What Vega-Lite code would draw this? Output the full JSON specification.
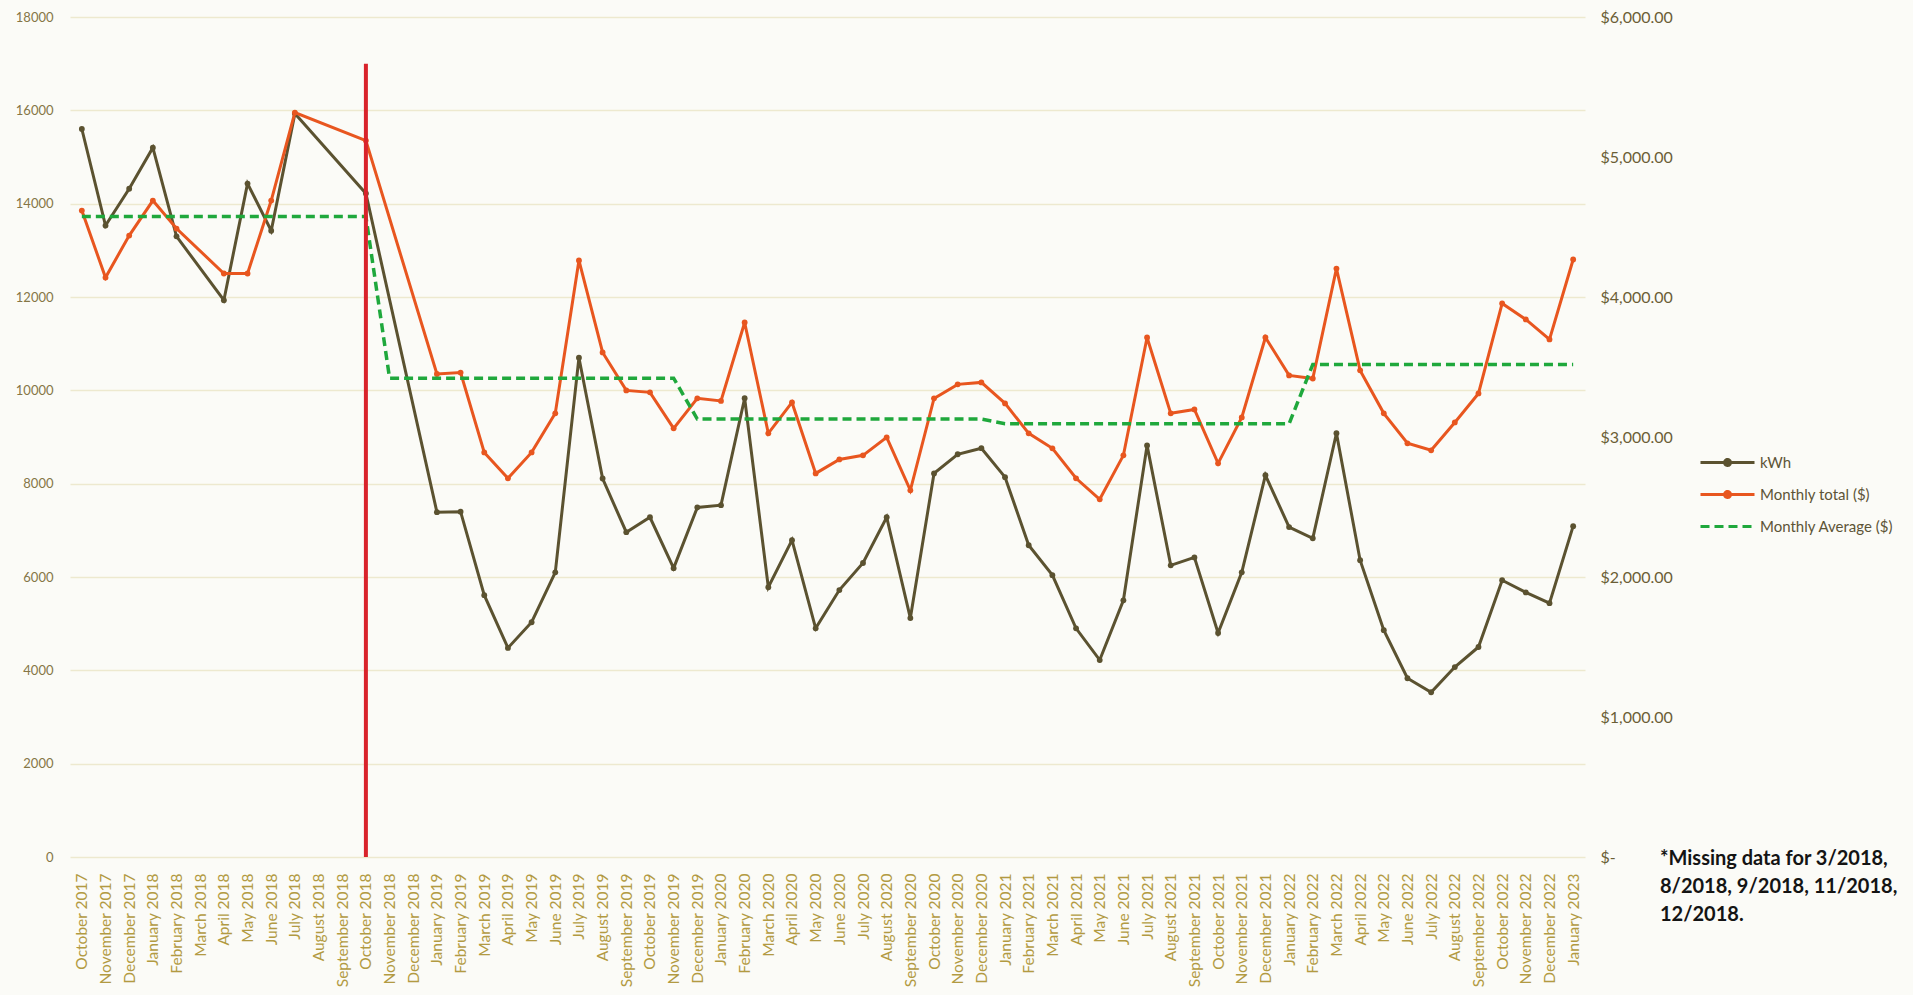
{
  "$schema": "https://vega.github.io/schema/vega-lite/v6.json",
  "width": 1515,
  "height": 840,
  "autosize": {"type": "none"},
  "padding": {"left": 70, "top": 17, "right": 328, "bottom": 138},
  "background": "#fbfbf7",
  "title": {
    "text": ["*Missing data for 3/2018,", "8/2018, 9/2018, 11/2018,", "12/2018."],
    "orient": "top",
    "anchor": "end",
    "align": "left",
    "baseline": "top",
    "frame": "group",
    "offset": 0,
    "dx": 75,
    "dy": 916,
    "font": "Lato",
    "fontSize": 20,
    "fontWeight": "bold",
    "color": "#141414",
    "lineHeight": 28
  },
  "data": {
    "values": [
      {"month": "October 2017", "kwh": 15600, "total": 4617, "avg": 4575},
      {"month": "November 2017", "kwh": 13530, "total": 4139, "avg": 4575},
      {"month": "December 2017", "kwh": 14320, "total": 4439, "avg": 4575},
      {"month": "January 2018", "kwh": 15200, "total": 4689, "avg": 4575},
      {"month": "February 2018", "kwh": 13300, "total": 4489, "avg": 4575},
      {"month": "March 2018", "kwh": null, "total": null, "avg": 4575},
      {"month": "April 2018", "kwh": 11930, "total": 4168, "avg": 4575},
      {"month": "May 2018", "kwh": 14430, "total": 4168, "avg": 4575},
      {"month": "June 2018", "kwh": 13420, "total": 4689, "avg": 4575},
      {"month": "July 2018", "kwh": 15930, "total": 5317, "avg": 4575},
      {"month": "August 2018", "kwh": null, "total": null, "avg": 4575},
      {"month": "September 2018", "kwh": null, "total": null, "avg": 4575},
      {"month": "October 2018", "kwh": 14220, "total": 5117, "avg": 4575},
      {"month": "November 2018", "kwh": null, "total": null, "avg": 3420},
      {"month": "December 2018", "kwh": null, "total": null, "avg": 3420},
      {"month": "January 2019", "kwh": 7390, "total": 3450, "avg": 3420},
      {"month": "February 2019", "kwh": 7400, "total": 3460, "avg": 3420},
      {"month": "March 2019", "kwh": 5610, "total": 2890, "avg": 3420},
      {"month": "April 2019", "kwh": 4480, "total": 2705, "avg": 3420},
      {"month": "May 2019", "kwh": 5030, "total": 2890, "avg": 3420},
      {"month": "June 2019", "kwh": 6100, "total": 3169, "avg": 3420},
      {"month": "July 2019", "kwh": 10700, "total": 4261, "avg": 3420},
      {"month": "August 2019", "kwh": 8110, "total": 3604, "avg": 3420},
      {"month": "September 2019", "kwh": 6960, "total": 3333, "avg": 3420},
      {"month": "October 2019", "kwh": 7280, "total": 3319, "avg": 3420},
      {"month": "November 2019", "kwh": 6190, "total": 3062, "avg": 3420},
      {"month": "December 2019", "kwh": 7490, "total": 3276, "avg": 3128},
      {"month": "January 2020", "kwh": 7540, "total": 3258, "avg": 3128},
      {"month": "February 2020", "kwh": 9830, "total": 3818, "avg": 3128},
      {"month": "March 2020", "kwh": 5780, "total": 3026, "avg": 3128},
      {"month": "April 2020", "kwh": 6790, "total": 3247, "avg": 3128},
      {"month": "May 2020", "kwh": 4900, "total": 2740, "avg": 3128},
      {"month": "June 2020", "kwh": 5720, "total": 2840, "avg": 3128},
      {"month": "July 2020", "kwh": 6300, "total": 2869, "avg": 3128},
      {"month": "August 2020", "kwh": 7280, "total": 2997, "avg": 3128},
      {"month": "September 2020", "kwh": 5120, "total": 2619, "avg": 3128},
      {"month": "October 2020", "kwh": 8220, "total": 3276, "avg": 3128},
      {"month": "November 2020", "kwh": 8630, "total": 3376, "avg": 3128},
      {"month": "December 2020", "kwh": 8760, "total": 3390, "avg": 3128},
      {"month": "January 2021", "kwh": 8140, "total": 3240, "avg": 3095},
      {"month": "February 2021", "kwh": 6680, "total": 3026, "avg": 3095},
      {"month": "March 2021", "kwh": 6040, "total": 2919, "avg": 3095},
      {"month": "April 2021", "kwh": 4900, "total": 2705, "avg": 3095},
      {"month": "May 2021", "kwh": 4220, "total": 2555, "avg": 3095},
      {"month": "June 2021", "kwh": 5500, "total": 2869, "avg": 3095},
      {"month": "July 2021", "kwh": 8820, "total": 3711, "avg": 3095},
      {"month": "August 2021", "kwh": 6250, "total": 3169, "avg": 3095},
      {"month": "September 2021", "kwh": 6420, "total": 3197, "avg": 3095},
      {"month": "October 2021", "kwh": 4800, "total": 2812, "avg": 3095},
      {"month": "November 2021", "kwh": 6100, "total": 3140, "avg": 3095},
      {"month": "December 2021", "kwh": 8180, "total": 3711, "avg": 3095},
      {"month": "January 2022", "kwh": 7070, "total": 3440, "avg": 3095},
      {"month": "February 2022", "kwh": 6830, "total": 3418, "avg": 3518},
      {"month": "March 2022", "kwh": 9080, "total": 4203, "avg": 3518},
      {"month": "April 2022", "kwh": 6360, "total": 3476, "avg": 3518},
      {"month": "May 2022", "kwh": 4860, "total": 3169, "avg": 3518},
      {"month": "June 2022", "kwh": 3830, "total": 2955, "avg": 3518},
      {"month": "July 2022", "kwh": 3530, "total": 2905, "avg": 3518},
      {"month": "August 2022", "kwh": 4070, "total": 3104, "avg": 3518},
      {"month": "September 2022", "kwh": 4500, "total": 3311, "avg": 3518},
      {"month": "October 2022", "kwh": 5930, "total": 3954, "avg": 3518},
      {"month": "November 2022", "kwh": 5670, "total": 3840, "avg": 3518},
      {"month": "December 2022", "kwh": 5440, "total": 3697, "avg": 3518},
      {"month": "January 2023", "kwh": 7090, "total": 4268, "avg": 3518}
    ]
  },
  "encoding": {
    "x": {
      "field": "month",
      "type": "ordinal",
      "scale": {
        "type": "point",
        "padding": 0.5,
        "domain": ["October 2017", "November 2017", "December 2017", "January 2018", "February 2018", "March 2018", "April 2018", "May 2018", "June 2018", "July 2018", "August 2018", "September 2018", "October 2018", "November 2018", "December 2018", "January 2019", "February 2019", "March 2019", "April 2019", "May 2019", "June 2019", "July 2019", "August 2019", "September 2019", "October 2019", "November 2019", "December 2019", "January 2020", "February 2020", "March 2020", "April 2020", "May 2020", "June 2020", "July 2020", "August 2020", "September 2020", "October 2020", "November 2020", "December 2020", "January 2021", "February 2021", "March 2021", "April 2021", "May 2021", "June 2021", "July 2021", "August 2021", "September 2021", "October 2021", "November 2021", "December 2021", "January 2022", "February 2022", "March 2022", "April 2022", "May 2022", "June 2022", "July 2022", "August 2022", "September 2022", "October 2022", "November 2022", "December 2022", "January 2023"]
      },
      "axis": {
        "title": null,
        "labelAngle": -90,
        "labelFontSize": 15.5,
        "labelColor": "#b29a42",
        "labelPadding": 16,
        "labelOverlap": false,
        "ticks": false,
        "domain": false,
        "grid": false
      }
    }
  },
  "layer": [
    {
      "transform": [{"filter": "datum.kwh != null"}],
      "mark": {"type": "line", "strokeWidth": 3, "point": {"filled": true, "size": 34}},
      "encoding": {
        "y": {
          "field": "kwh",
          "type": "quantitative",
          "scale": {"domain": [0, 18000], "nice": false},
          "axis": {
            "orient": "left",
            "title": null,
            "values": [0, 2000, 4000, 6000, 8000, 10000, 12000, 14000, 16000, 18000],
            "format": "d",
            "labelFontSize": 13,
            "labelColor": "#857646",
            "labelPadding": 17,
            "ticks": false,
            "domain": false,
            "grid": true,
            "gridColor": "#ede9cf",
            "gridWidth": 1.5
          }
        },
        "color": {
          "datum": "kWh",
          "type": "nominal",
          "scale": {
            "domain": ["kWh", "Monthly total ($)", "Monthly Average ($)"],
            "range": ["#5b5230", "#e8561f", "#1fa83c"]
          },
          "legend": {
            "title": null,
            "orient": "none",
            "legendX": 1646,
            "legendY": 434,
            "padding": 0,
            "labelFontSize": 15,
            "labelColor": "#5d5436",
            "labelFont": "Lato",
            "labelOffset": 21,
            "rowPadding": 11,
            "symbolSize": 400,
            "symbolStrokeWidth": 3,
            "encode": {
              "symbols": {
                "update": {
                  "shape": {"signal": "datum.value === 'Monthly Average ($)' ? 'M-2.7,0H2.7' : 'M-2.7,0H2.7M-0.3,0A0.3,0.3,0,1,1,0.3,0A0.3,0.3,0,1,1,-0.3,0'"},
                  "strokeDash": {"signal": "datum.value === 'Monthly Average ($)' ? [9, 5] : [1, 0]"},
                  "fill": {"signal": "datum.value === 'Monthly Average ($)' ? 'transparent' : scale('color', datum.value)"}
                }
              }
            }
          }
        }
      }
    },
    {
      "layer": [
        {
          "transform": [{"filter": "datum.total != null"}],
          "mark": {"type": "line", "strokeWidth": 3, "point": {"filled": true, "size": 34}},
          "encoding": {
            "y": {
              "field": "total",
              "type": "quantitative",
              "scale": {"domain": [0, 6000], "nice": false},
              "axis": {
                "orient": "right",
                "title": null,
                "values": [0, 1000, 2000, 3000, 4000, 5000, 6000],
                "labelExpr": "datum.value === 0 ? '$-' : '$' + format(datum.value, ',.2f')",
                "labelFontSize": 16,
                "labelColor": "#6b5e36",
                "labelPadding": 15,
                "ticks": false,
                "domain": false,
                "grid": false
              }
            },
            "color": {"datum": "Monthly total ($)", "type": "nominal"}
          }
        },
        {
          "mark": {"type": "line", "strokeWidth": 3.5, "strokeDash": [9, 5]},
          "encoding": {
            "y": {"field": "avg", "type": "quantitative"},
            "color": {"datum": "Monthly Average ($)", "type": "nominal"}
          }
        }
      ]
    },
    {
      "data": {"values": [{"month": "October 2018"}]},
      "mark": {"type": "rule", "color": "#d9232b", "strokeWidth": 4},
      "encoding": {
        "y": {"datum": 17000, "type": "quantitative", "scale": {"domain": [0, 18000], "nice": false}, "axis": null},
        "y2": {"datum": 0}
      }
    }
  ],
  "resolve": {"scale": {"y": "independent"}},
  "config": {
    "font": "Lato",
    "view": {"stroke": null},
    "axis": {"labelFont": "Lato"}
  }
}
